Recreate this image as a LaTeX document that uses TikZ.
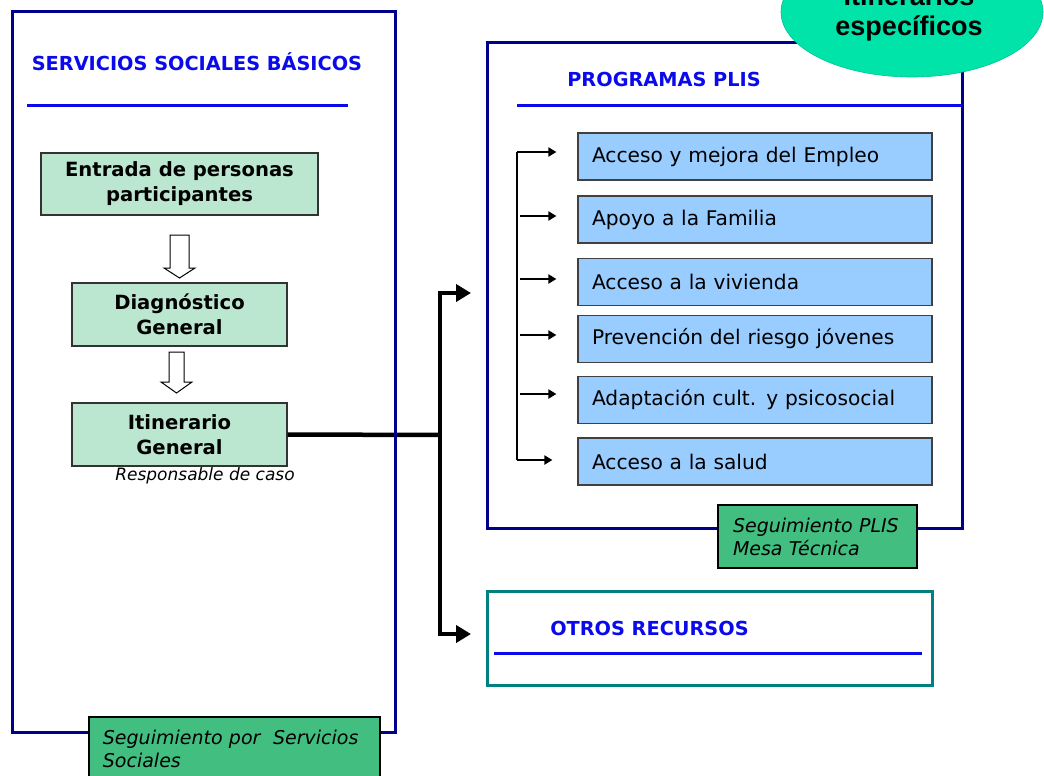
\documentclass[tikz,border=0pt]{standalone}
\usepackage{fontspec}
\setmainfont{DejaVu Sans}
\newfontfamily\arialfont{Liberation Sans}
\usetikzlibrary{arrows.meta,shapes.geometric,calc}
\definecolor{navyb}{RGB}{0,0,139}
\definecolor{titleb}{RGB}{10,10,235}
\definecolor{lgreen}{RGB}{187,230,208}
\definecolor{lblue}{RGB}{153,204,255}
\definecolor{mgreen}{RGB}{66,190,128}
\definecolor{mint}{RGB}{0,228,170}
\definecolor{tealb}{RGB}{0,128,128}
\begin{document}
\begin{tikzpicture}[x=1pt, y=-1pt,
  stepbox/.style={draw=black!80, line width=1.2pt, fill=lgreen, minimum width=215, minimum height=63, align=center, font=\fontsize{19.6}{25}\selectfont\bfseries},
  progbox/.style={draw=black!75, line width=1.2pt, fill=lblue, minimum height=47, inner xsep=14, text width=326, align=left, font=\fontsize{20.2}{24}\selectfont},
  followbox/.style={draw=black, line width=1.8pt, fill=mgreen, align=left, font=\fontsize{19}{23}\selectfont\itshape},
  frametitle/.style={text=titleb, font=\fontsize{19.3}{22}\selectfont\bfseries},
  titleline/.style={titleb, line width=3pt},
  bigarrow/.style={line width=4.5pt, -{Triangle[length=15pt,width=17pt]}},
  sarrow/.style={line width=2pt, -{Triangle[length=8pt,width=9pt]}},
  hollow/.style={draw=black, line width=1pt, fill=white}]
\useasboundingbox (0,0) rectangle (1044,776);
\clip (0,0) rectangle (1044,776);

% left column
\node[stepbox, minimum width=277, minimum height=62] (s1) at (179.5,184) {Entrada de personas\\participantes};
\node[stepbox] (s2) at (179.5,314.5) {Diagnóstico\\General};
\node[stepbox] (s3) at (179.5,434.5) {Itinerario\\General};
\node[font=\fontsize{17}{20}\selectfont\itshape] (r1) at (205,476) {Responsable de caso};

\draw[hollow] (170,235) -- (189,235) -- (189,268) -- (195,268) -- (179.5,278) -- (164,268) -- (170,268) -- cycle;
\draw[hollow] (169,352) -- (184,352) -- (184,382) -- (192,382) -- (176.5,393) -- (161,382) -- (169,382) -- cycle;

% branch to the right
\coordinate (j) at (440,435);
\coordinate (a1) at (471,293);
\coordinate (a2) at (471,634);
\draw[line width=4.5pt] (s3.east) -- (j);
\draw[bigarrow] (j) |- (a1);
\draw[bigarrow] (j) |- (a2);

\draw[navyb, line width=3pt] (12,12) rectangle (395,732);
\node[frametitle] (t1) at (197,62) {SERVICIOS SOCIALES BÁSICOS};
\draw[titleline] (27,105) -- (348,105);
\node[followbox, anchor=north west, minimum width=291, minimum height=64, inner xsep=14, text width=263] (f1) at (88,716) {Seguimiento por~~Servicios\\Sociales};

% programas
\draw[navyb, line width=3pt] (487,43) rectangle (962,528);
\node[frametitle] (t2) at (664,79) {PROGRAMAS PLIS};
\draw[titleline] (517,105) -- (962,105);

\node[progbox] (p1) at (755,156.5) {Acceso y mejora del Empleo};
\node[progbox] (p2) at (755,219.5) {Apoyo a la Familia};
\node[progbox] (p3) at (755,282) {Acceso a la vivienda};
\node[progbox] (p4) at (755,339) {Prevención del riesgo jóvenes};
\node[progbox] (p5) at (755,400) {Adaptación cult. y psicosocial};
\node[progbox] (p6) at (755,461.5) {Acceso a la salud};

\coordinate (k1) at (517,152);
\coordinate (k2) at (520,216);
\coordinate (k3) at (520,279);
\coordinate (k4) at (520,335);
\coordinate (k5) at (520,394);
\coordinate (k6) at (517,460);
\draw[line width=2pt] (k1) -- (k6);
\draw[sarrow] (k1) -- ($(p1.west |- k1)+(-21,0)$);
\draw[sarrow] (k2) -- ($(p2.west |- k2)+(-21,0)$);
\draw[sarrow] (k3) -- ($(p3.west |- k3)+(-21,0)$);
\draw[sarrow] (k4) -- ($(p4.west |- k4)+(-21,0)$);
\draw[sarrow] (k5) -- ($(p5.west |- k5)+(-21,0)$);
\draw[sarrow] (k6) -- ($(p6.west |- k6)+(-25,0)$);

\node[followbox, minimum width=199, minimum height=63, inner xsep=15, text width=169] (f2) at (817.5,536.5) {Seguimiento PLIS\\Mesa Técnica};

\node[ellipse, draw=mint!85!black, line width=0.6pt, fill=mint, minimum width=262, minimum height=130, align=center, font=\arialfont\fontsize{27}{30}\selectfont\bfseries] (it) at (912,12) {};
\node[align=center, font=\arialfont\fontsize{27}{30}\selectfont\bfseries] (itt) at (909,14) {Itinerarios\\específicos};

% otros recursos
\draw[tealb, line width=3pt] (487,591) rectangle (932,685);
\node[frametitle] (t3) at (649.5,628) {OTROS RECURSOS};
\draw[titleline] (494,653) -- (922,653);
\end{tikzpicture}
\end{document}
